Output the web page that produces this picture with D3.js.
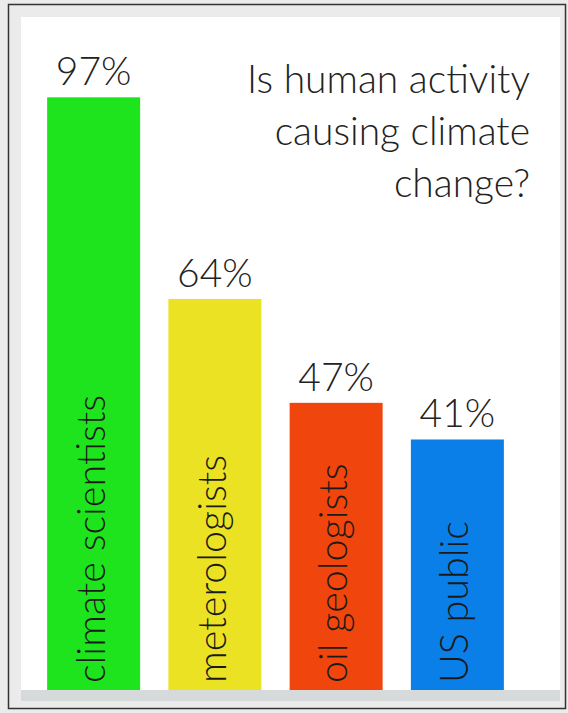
<!DOCTYPE html>
<html>
<head>
<meta charset="utf-8">
<script src="https://cdn.jsdelivr.net/npm/d3@7"></script>
<style>
  html, body { margin: 0; padding: 0; background: #ebebeb; }
  svg { display: block; }
  text { font-family: Lato, "Open Sans", sans-serif; font-weight: 300; }
</style>
</head>
<body>
<div id="chart"></div>
<script>
const categories = ["climate scientists", "meterologists", "oil geologists", "US public"];
const values = [97, 64, 47, 41];
const valueLabels = ["97%", "64%", "47%", "41%"];
const barColors = ["#1de41d", "#ebe223", "#f0450c", "#0a7fe8"];
const titleLines = ["Is human activity", "causing climate", "change?"];

const W = 568, H = 713;
const svg = d3.select("#chart").append("svg").attr("width", W).attr("height", H);

// frame
svg.append("rect").attr("x", 0).attr("y", 0).attr("width", W).attr("height", H).attr("fill", "#ebebeb");
svg.append("rect").attr("x", 8.5).attr("y", 4.5).attr("width", 557).attr("height", 704)
  .attr("fill", "#ebebeb").attr("stroke", "#333").attr("stroke-width", 1.5);
svg.append("rect").attr("x", 21).attr("y", 17).attr("width", 539).attr("height", 673).attr("fill", "#ffffff");
svg.append("rect").attr("x", 21).attr("y", 690).attr("width", 539).attr("height", 11).attr("fill", "#d6dadb");

const x = d3.scaleBand().domain(categories).range([33, 518]).paddingInner(0.233).paddingOuter(0.1165);
const y = d3.scaleLinear().domain([0, 100]).range([690, 79]);

const data = categories.map((c, i) => ({ c, v: values[i], label: valueLabels[i], color: barColors[i] }));

svg.selectAll("rect.bar").data(data).enter().append("rect")
  .attr("class", "bar")
  .attr("x", d => x(d.c))
  .attr("y", d => y(d.v))
  .attr("width", x.bandwidth())
  .attr("height", d => y(0) - y(d.v))
  .attr("fill", d => d.color);

svg.selectAll("text.val").data(data).enter().append("text")
  .attr("class", "val")
  .attr("x", d => x(d.c) + x.bandwidth() / 2)
  .attr("y", d => y(d.v) - 12)
  .attr("text-anchor", "middle")
  .attr("font-size", 39)
  .attr("fill", "#222")
  .text(d => d.label);

svg.selectAll("text.cat").data(data).enter().append("text")
  .attr("class", "cat")
  .attr("transform", d => `translate(${x(d.c) + x.bandwidth() / 2 + 11},${y(0) - 7}) rotate(-90)`)
  .attr("text-anchor", "start")
  .attr("font-size", 39.5)
  .attr("fill", "#1a1a1a")
  .text(d => d.c);

svg.append("g").selectAll("text").data(titleLines).enter().append("text")
  .attr("x", 530)
  .attr("y", (d, i) => 93 + i * 52)
  .attr("text-anchor", "end")
  .attr("font-size", 39)
  .attr("fill", "#222")
  .text(d => d);
</script>
</body>
</html>
